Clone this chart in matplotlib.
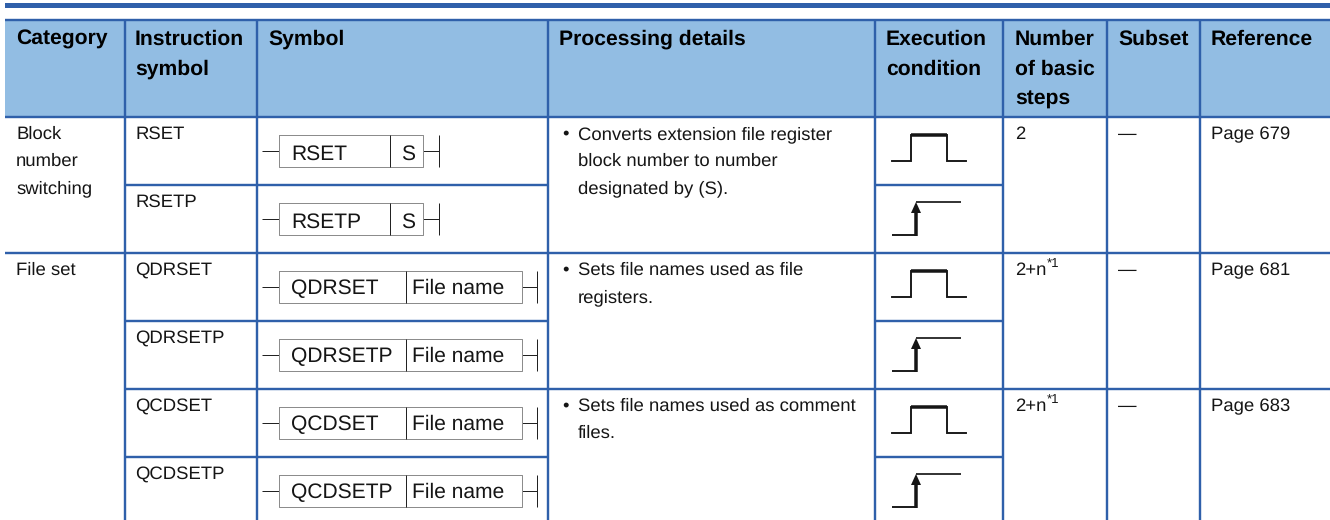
"""Instruction table drawn in pixel coordinates."""
import matplotlib
matplotlib.use("Agg")
import matplotlib.pyplot as plt

plt.rcParams['font.family'] = ['Liberation Sans', 'DejaVu Sans']
plt.rcParams['text.hinting'] = 'none'
plt.rcParams['text.hinting_factor'] = 8

# Table content
headers = [["Category"], ["Instruction", "symbol"], ["Symbol"], ["Processing details"],
           ["Execution", "condition"], ["Number", "of basic", "steps"], ["Subset"], ["Reference"]]
categories = [["Block", "number", "switching"], ["File set"]]
instructions = ["RSET", "RSETP", "QDRSET", "QDRSETP", "QCDSET", "QCDSETP"]
operands = ["S", "S", "File name", "File name", "File name", "File name"]
details = [["Converts extension file register", "block number to number", "designated by (S)."],
           ["Sets file names used as file", "registers."],
           ["Sets file names used as comment", "files."]]
steps = ["2", "2+n", "2+n"]
step_notes = ["", "*1", "*1"]
subsets = ["—", "—", "—"]
references = ["Page 679", "Page 681", "Page 683"]

# Layout, in pixels of the 1330x520 picture
col_x = [5, 125, 257, 548, 875, 1003, 1107, 1200, 1330]
row_y = [117, 185, 253, 321, 389, 457, 525]
text_x = [16, 135, 268, 559, 886, 1015, 1118, 1211]
header_colour = "#92BDE3"
line_colour = "#2F60AA"
text_colour = "#151515"
px = 72 / 100
grid_lw = 2.4 * px
body_size = 13.3
header_size = 15.2
symbol_size = 15.1

fig = plt.figure(figsize=(13.3, 5.2), dpi=100)
ax = fig.add_axes([0, 0, 1, 1])
ax.set_xlim(0, 1330)
ax.set_ylim(520, 0)
ax.axis("off")


def body_text(x, y, text, size=body_size):
    ax.text(x, y, text, fontsize=size, color=text_colour, ha="left", va="baseline")


def draw_symbol(row, name, operand):
    top = row_y[row] + 18
    bottom = top + 32
    middle = (top + bottom) / 2
    left = 279
    wide = len(operand) > 1
    divider = 406 if wide else 390
    right = 522 if wide else 423
    end = 537 if wide else 439
    baseline = bottom - 9 if wide else bottom - 7
    ax.plot([262, left], [middle, middle], color="#222222", lw=1 * px, solid_capstyle="butt")
    ax.plot([right, end], [middle, middle], color="#222222", lw=1 * px, solid_capstyle="butt")
    ax.plot([end, end], [top, bottom], color="#222222", lw=1 * px, solid_capstyle="butt")
    ax.plot([left, right, right, left, left], [top, top, bottom, bottom, top], color="#8C8C8C", lw=1 * px)
    ax.plot([divider, divider], [top, bottom], color="#222222", lw=1 * px, solid_capstyle="butt")
    body_text(291, baseline, name, symbol_size)
    body_text(412 if wide else 401, baseline, operand, symbol_size)


def draw_pulse(row):
    base = row_y[row] + 44
    ax.plot([892, 911, 911, 947, 947, 966], [base, base, base - 26, base - 26, base, base],
            color="#151515", lw=1.9 * px, solid_joinstyle="miter")
    ax.plot([911, 947], [base - 26, base - 26], color="#151515", lw=3.5 * px, solid_capstyle="butt")


def draw_rise(row):
    base = row_y[row] + 50
    ax.plot([892, 915], [base, base], color="#151515", lw=1.9 * px, solid_capstyle="butt")
    ax.plot([916, 961], [base - 33, base - 33], color="#151515", lw=1.7 * px, solid_capstyle="butt")
    ax.plot([916, 916], [base + 1, base - 24], color="#151515", lw=3.5 * px, solid_capstyle="butt")
    ax.fill([911, 916, 921], [base - 22, base - 33, base - 22], color="#151515", lw=0)


# Top bar and header band
ax.fill_between([5, 1330], 3, 8, color=line_colour, lw=0)
ax.fill_between([5, 1330], 20, 117, color=header_colour, lw=0)

# Grid lines
ax.hlines(20, 5, 1330, color=line_colour, lw=grid_lw)
ax.hlines(row_y[0], 5, 1330, color=line_colour, lw=grid_lw)
ax.vlines(col_x[1:8], 20, 520, color=line_colour, lw=grid_lw)
ax.hlines(row_y[2], 5, 1330, color=line_colour, lw=grid_lw)
ax.hlines(row_y[4], col_x[1], 1330, color=line_colour, lw=grid_lw)
for y in (row_y[1], row_y[3], row_y[5]):
    ax.hlines(y, col_x[1], col_x[3], color=line_colour, lw=grid_lw)
    ax.hlines(y, col_x[4], col_x[5], color=line_colour, lw=grid_lw)

# Header text
for x, lines in zip(text_x, headers):
    for i, line in enumerate(lines):
        ax.text(x, 45 + i * 30, line, fontsize=header_size, fontweight="bold", color="black",
                ha="left", va="baseline")

# Body
for row, lines in zip((0, 2), categories):
    for i, line in enumerate(lines):
        body_text(text_x[0], row_y[row] + 22 + i * 27, line)

for row, (name, operand) in enumerate(zip(instructions, operands)):
    body_text(text_x[1], row_y[row] + 22, name)
    draw_symbol(row, name, operand)
    if row % 2 == 0:
        draw_pulse(row)
    else:
        draw_rise(row)

for group, lines in enumerate(details):
    row = group * 2
    body_text(text_x[3] + 3, row_y[row] + 22, "•")
    for i, line in enumerate(lines):
        body_text(text_x[3] + 19, row_y[row] + 22 + i * 27, line)
    body_text(text_x[5], row_y[row] + 22, steps[group])
    if step_notes[group]:
        body_text(text_x[5] + 32, row_y[row] + 14, step_notes[group], 9.5)
    body_text(text_x[6], row_y[row] + 22, subsets[group])
    body_text(text_x[7], row_y[row] + 22, references[group])

fig.savefig("out.png", dpi=100, facecolor="w")
plt.close(fig)
